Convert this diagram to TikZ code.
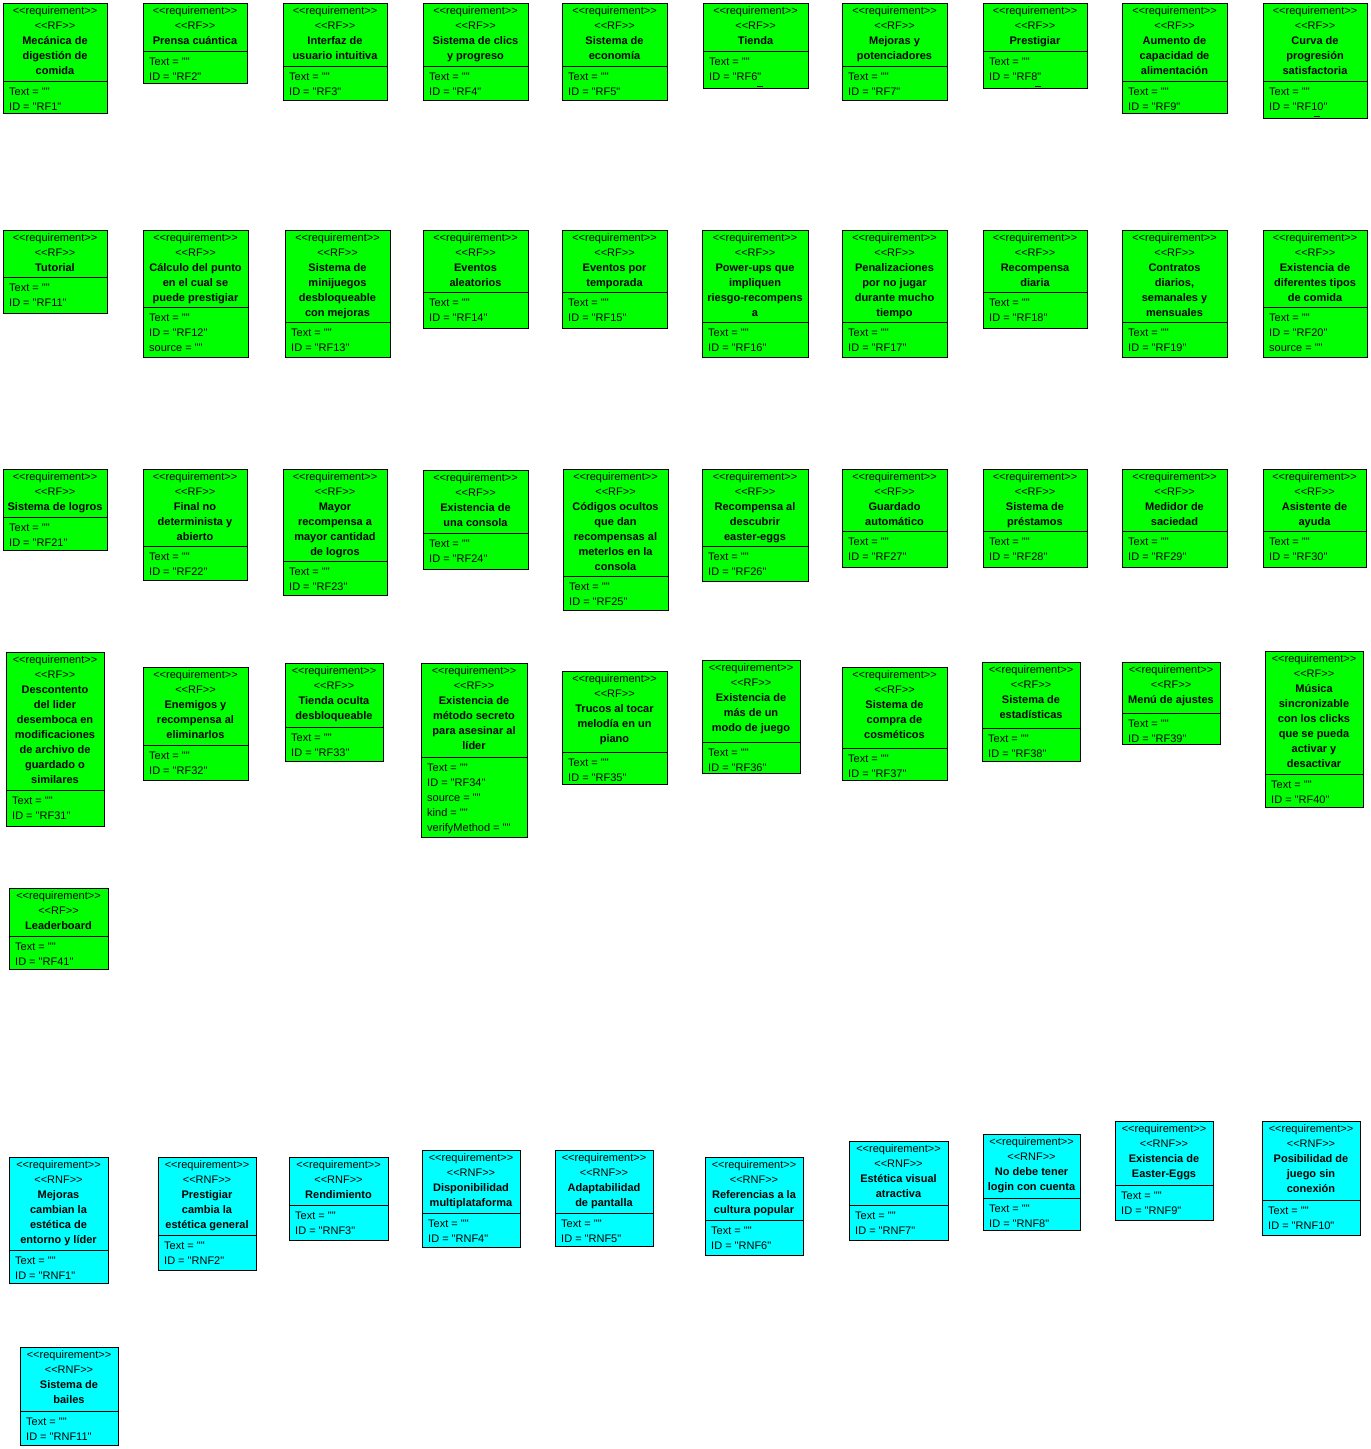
\documentclass[tikz,border=0pt]{standalone}
% Arial-metric faces loaded directly, so quotes and << >> stay as typed
\font\regfont="Liberation Sans" at 11pt
\font\boldfont="Liberation Sans/B" at 11pt
\definecolor{rfgreen}{RGB}{0,255,0}
\definecolor{rnfcyan}{RGB}{0,255,255}
\tikzset{
  reqbox/.style={draw=black,line width=1pt,inner sep=0pt,outer sep=0pt,anchor=north west},
  kindRF/.style={fill=rfgreen},
  kindRNF/.style={fill=rnfcyan},
  divider/.style={draw=black,line width=1pt},
  stereo/.style={inner sep=0pt,anchor=base,font=\regfont},
  title/.style={inner sep=0pt,anchor=base,font=\boldfont},
  attr/.style={inner sep=0pt,anchor=base west,font=\regfont},
  clipmark/.style={draw=black,line width=1.2pt}
}
% \req{name}{left}{top}{width}{divider y}{bottom}{RF|RNF}{title lines}{attribute lines}
\newcommand\req[9]{%
  \node[reqbox,kind#7,minimum width=#4,minimum height={#6-#3}] (#1) at (#2,#3) {};
  \draw[divider] ({#2},{#5}) -- ({#2+#4},{#5});
  \node[stereo] at ({#2+#4/2},{#3+11}) {<<requirement>>};
  \node[stereo] at ({#2+#4/2},{#3+26}) {<<#7>>};
  \foreach \lineText [count=\i] in {#8}
    \node[title] at ({#2+#4/2},{#3+11+15*(\i+1)}) {\lineText};
  \foreach \lineText [count=\i] in {#9}
    \node[attr] at ({#2+6},{#5+14.5+15*(\i-1)}) {\lineText};
}
\begin{document}
\begin{tikzpicture}[x=1pt,y=-1pt]
\useasboundingbox (0,0) rectangle (1371,1449);
\fill[white] (0,0) rectangle (1371,1449);

% functional requirements, first row
\req{rf1}{3}{3}{104}{81}{113}{RF}{Mecánica de,digestión de,comida}{Text = "",ID = "RF1"}
\req{rf2}{143}{3}{104}{51}{83}{RF}{Prensa cuántica}{Text = "",ID = "RF2"}
\req{rf3}{283}{3}{104}{66}{100}{RF}{Interfaz de,usuario intuitiva}{Text = "",ID = "RF3"}
\req{rf4}{423}{3}{105}{66}{100}{RF}{Sistema de clics,y progreso}{Text = "",ID = "RF4"}
\req{rf5}{562}{3}{105}{66}{100}{RF}{Sistema de,economía}{Text = "",ID = "RF5"}
\req{rf6}{703}{3}{105}{51}{88}{RF}{Tienda}{Text = "",ID = "RF6"}
\req{rf7}{842}{3}{105}{66}{100}{RF}{Mejoras y,potenciadores}{Text = "",ID = "RF7"}
\req{rf8}{983}{3}{104}{51}{88}{RF}{Prestigiar}{Text = "",ID = "RF8"}
\req{rf9}{1122}{3}{105}{81}{113}{RF}{Aumento de,capacidad de,alimentación}{Text = "",ID = "RF9"}
\req{rf10}{1263}{3}{104}{81}{118}{RF}{Curva de,progresión,satisfactoria}{Text = "",ID = "RF10"}
% clipped third attribute peeking above the bottom edge
\draw[clipmark] (757,86.5) -- (763,86.5);
\draw[clipmark] (1035,86.5) -- (1041,86.5);
\draw[clipmark] (1314,116.5) -- (1320,116.5);

% second row
\req{rf11}{3}{230}{104}{277}{313}{RF}{Tutorial}{Text = "",ID = "RF11"}
\req{rf12}{143}{230}{105}{307}{357}{RF}{Cálculo del punto,en el cual se,puede prestigiar}{Text = "",ID = "RF12",source = ""}
\req{rf13}{285}{230}{105}{322}{357}{RF}{Sistema de,minijuegos,desbloqueable,con mejoras}{Text = "",ID = "RF13"}
\req{rf14}{423}{230}{105}{292}{328}{RF}{Eventos,aleatorios}{Text = "",ID = "RF14"}
\req{rf15}{562}{230}{105}{292}{328}{RF}{Eventos por,temporada}{Text = "",ID = "RF15"}
\req{rf16}{702}{230}{106}{322}{357}{RF}{Power-ups que,impliquen,riesgo-recompens,a}{Text = "",ID = "RF16"}
\req{rf17}{842}{230}{105}{322}{357}{RF}{Penalizaciones,por no jugar,durante mucho,tiempo}{Text = "",ID = "RF17"}
\req{rf18}{983}{230}{104}{292}{328}{RF}{Recompensa,diaria}{Text = "",ID = "RF18"}
\req{rf19}{1122}{230}{105}{322}{357}{RF}{Contratos,{diarios,},semanales y,mensuales}{Text = "",ID = "RF19"}
\req{rf20}{1263}{230}{104}{307}{357}{RF}{Existencia de,diferentes tipos,de comida}{Text = "",ID = "RF20",source = ""}

% third row
\req{rf21}{3}{469}{104}{517}{550}{RF}{Sistema de logros}{Text = "",ID = "RF21"}
\req{rf22}{143}{469}{104}{546}{580}{RF}{Final no,determinista y,abierto}{Text = "",ID = "RF22"}
\req{rf23}{283}{469}{104}{561}{595}{RF}{Mayor,recompensa a,mayor cantidad,de logros}{Text = "",ID = "RF23"}
\req{rf24}{423}{470}{105}{533}{569}{RF}{Existencia de,una consola}{Text = "",ID = "RF24"}
\req{rf25}{563}{469}{105}{576}{610}{RF}{Códigos ocultos,que dan,recompensas al,meterlos en la,consola}{Text = "",ID = "RF25"}
\req{rf26}{702}{469}{106}{546}{581}{RF}{Recompensa al,descubrir,easter-eggs}{Text = "",ID = "RF26"}
\req{rf27}{842}{469}{105}{531}{567}{RF}{Guardado,automático}{Text = "",ID = "RF27"}
\req{rf28}{983}{469}{104}{531}{567}{RF}{Sistema de,préstamos}{Text = "",ID = "RF28"}
\req{rf29}{1122}{469}{105}{531}{567}{RF}{Medidor de,saciedad}{Text = "",ID = "RF29"}
\req{rf30}{1263}{469}{103}{531}{567}{RF}{Asistente de,ayuda}{Text = "",ID = "RF30"}

% fourth row
\req{rf31}{6}{652}{98}{790}{826}{RF}{Descontento,del lider,desemboca en,modificaciones,de archivo de,guardado o,similares}{Text = "",ID = "RF31"}
\req{rf32}{143}{667}{105}{745}{780}{RF}{Enemigos y,recompensa al,eliminarlos}{Text = "",ID = "RF32"}
\req{rf33}{285}{663}{98}{727}{761}{RF}{Tienda oculta,desbloqueable}{Text = "",ID = "RF33"}
\req{rf34}{421}{663}{106}{757}{837}{RF}{Existencia de,método secreto,para asesinar al,líder}{Text = "",ID = "RF34",source = "",kind = "",verifyMethod = ""}
\req{rf35}{562}{671}{105}{752}{784}{RF}{Trucos al tocar,melodía en un,piano}{Text = "",ID = "RF35"}
\req{rf36}{702}{660}{98}{742}{773}{RF}{Existencia de,más de un,modo de juego}{Text = "",ID = "RF36"}
\req{rf37}{842}{667}{105}{748}{780}{RF}{Sistema de,compra de,cosméticos}{Text = "",ID = "RF37"}
\req{rf38}{982}{662}{98}{728}{761}{RF}{Sistema de,estadísticas}{Text = "",ID = "RF38"}
\req{rf39}{1122}{662}{98}{713}{744}{RF}{Menú de ajustes}{Text = "",ID = "RF39"}
\req{rf40}{1265}{651}{98}{774}{807}{RF}{Música,sincronizable,con los clicks,que se pueda,activar y,desactivar}{Text = "",ID = "RF40"}

\req{rf41}{9}{888}{99}{936}{969}{RF}{Leaderboard}{Text = "",ID = "RF41"}

% non-functional requirements
\req{rnf1}{9}{1157}{99}{1250}{1283}{RNF}{Mejoras,cambian la,estética de,entorno y líder}{Text = "",ID = "RNF1"}
\req{rnf2}{158}{1157}{98}{1235}{1270}{RNF}{Prestigiar,cambia la,estética general}{Text = "",ID = "RNF2"}
\req{rnf3}{289}{1157}{99}{1205}{1240}{RNF}{Rendimiento}{Text = "",ID = "RNF3"}
\req{rnf4}{422}{1150}{98}{1213}{1247}{RNF}{Disponibilidad,multiplataforma}{Text = "",ID = "RNF4"}
\req{rnf5}{555}{1150}{98}{1213}{1246}{RNF}{Adaptabilidad,de pantalla}{Text = "",ID = "RNF5"}
\req{rnf6}{705}{1157}{98}{1220}{1255}{RNF}{Referencias a la,cultura popular}{Text = "",ID = "RNF6"}
\req{rnf7}{849}{1141}{99}{1205}{1240}{RNF}{Estética visual,atractiva}{Text = "",ID = "RNF7"}
\req{rnf8}{983}{1134}{97}{1198}{1230}{RNF}{No debe tener,login con cuenta}{Text = "",ID = "RNF8"}
\req{rnf9}{1115}{1121}{98}{1185}{1220}{RNF}{Existencia de,Easter-Eggs}{Text = "",ID = "RNF9"}
\req{rnf10}{1262}{1121}{98}{1200}{1235}{RNF}{Posibilidad de,juego sin,conexión}{Text = "",ID = "RNF10"}
\req{rnf11}{20}{1347}{98}{1411}{1445}{RNF}{Sistema de,bailes}{Text = "",ID = "RNF11"}
\end{tikzpicture}
\end{document}
